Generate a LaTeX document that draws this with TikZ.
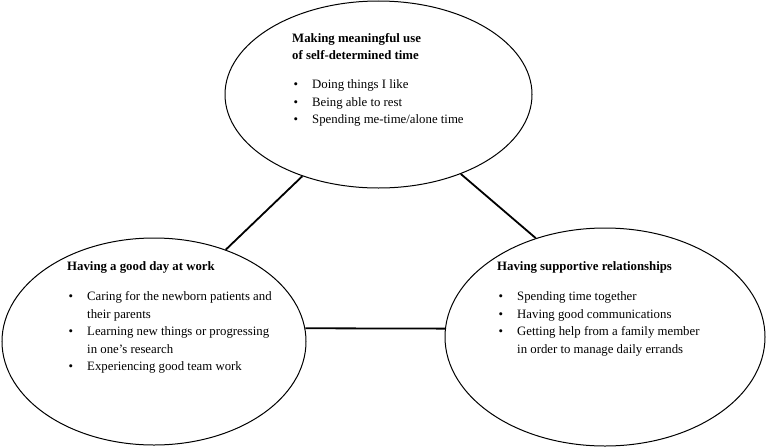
\documentclass[tikz,border=0pt]{standalone}
\usepackage{fontspec}
\setmainfont{Liberation Serif}
\usetikzlibrary{shapes.geometric}

\newcommand{\bitem}{\makebox[20pt][l]{\hspace{1.5pt}\textbullet}}
\newcommand{\bcont}{\hspace*{20pt}}

\tikzset{
  theme/.style={ellipse, draw, line width=1pt, inner sep=0pt},
  themetext/.style={anchor=north west, align=left, inner sep=0pt, font=\fontsize{12.8}{17.5}\selectfont},
  link/.style={line width=1.8pt}
}

\begin{document}
\begin{tikzpicture}[x=1pt, y=-1pt]
    \useasboundingbox (0,0) rectangle (767,447);

    % the three themes
    \node[theme, minimum width=307pt, minimum height=187pt] (selftime) at (378.5,94.5) {};
    \node[theme, minimum width=304pt, minimum height=207pt] (work) at (154,341.5) {};
    \node[theme, minimum width=320pt, minimum height=218pt] (relations) at (605,337) {};

    \draw[link] (selftime.-133.6) -- (work.52);
    \draw[link] (selftime.-44.6) -- (relations.125);
    \draw[link] (work.5) -- (relations.177);

    % texts
    \node[themetext] (selftimetext) at (292,33) {\textbf{Making meaningful use}\\
        \textbf{of self-determined time}\\[11.5pt]
        \bitem Doing things I like\\
        \bitem Being able to rest\\
        \bitem Spending me-time/alone time};
    \node[themetext] (worktext) at (67,261) {\textbf{Having a good day at work}\\[13pt]
        \bitem Caring for the newborn patients and\\
        \bcont their parents\\
        \bitem Learning new things or progressing\\
        \bcont in one’s research\\
        \bitem Experiencing good team work};
    \node[themetext] (relationstext) at (497,261) {\textbf{Having supportive relationships}\\[13pt]
        \bitem Spending time together\\
        \bitem Having good communications\\
        \bitem Getting help from a family member\\
        \bcont in order to manage daily errands};
\end{tikzpicture}
\end{document}
